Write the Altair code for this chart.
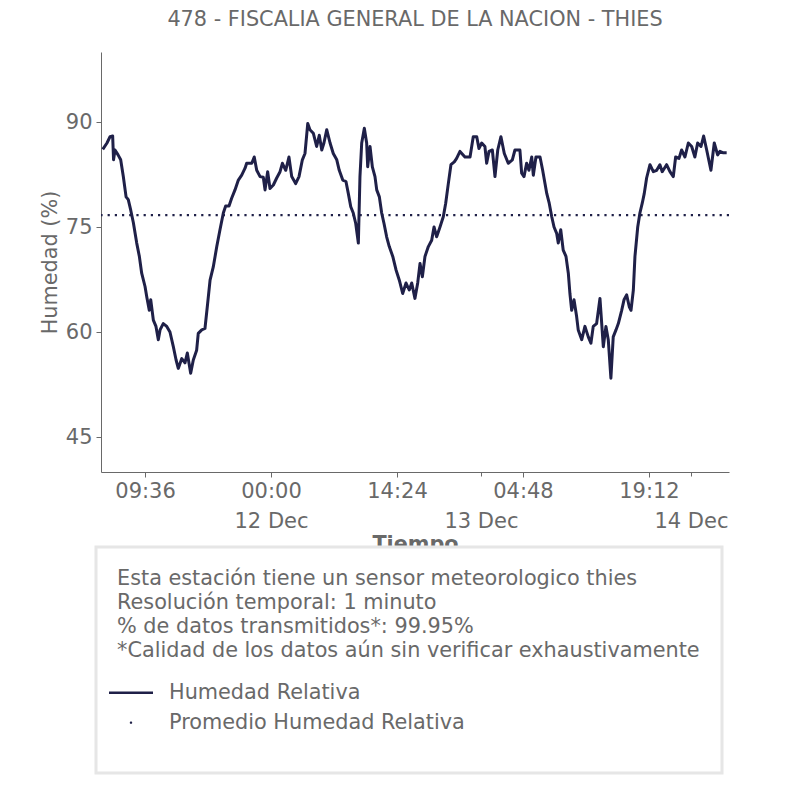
import altair as alt
import pandas as pd

titulo = "478 - FISCALIA GENERAL DE LA NACION - THIES"

# minutos desde 2023-12-12 00:00 y humedad relativa (%)
minutos = [
    -1154, -1125, -1104, -1086, -1080, -1070, -1049, -1031, -1013, -994,
    -979, -962, -944, -921, -903, -887, -864, -852, -835, -825,
    -807, -789, -773, -761, -739, -715, -693, -670, -651, -636,
    -612, -590, -574, -551, -533, -510, -499, -475, -453, -435,
    -418, -396, -372, -350, -327, -311, -288, -270, -247, -224,
    -201, -178, -167, -132, -115, -98, -75, -53, -41, -23,
    -7, 16, 39, 62, 78, 101, 123, 142, 169, 192,
    215, 233, 252, 267, 290, 313, 331, 348, 363, 382,
    405, 427, 451, 468, 492, 514, 530, 547, 564, 581,
    599, 610, 622, 640, 656, 663, 679, 695, 713, 725,
    743, 759, 775, 793, 811, 835, 857, 880, 903, 926,
    948, 965, 987, 1006, 1022, 1038, 1056, 1079, 1102, 1118,
    1136, 1159, 1182, 1198, 1216, 1234, 1257, 1273, 1296, 1330,
    1365, 1387, 1411, 1426, 1445, 1467, 1479, 1495, 1518, 1536,
    1555, 1577, 1600, 1627, 1655, 1673, 1707, 1719, 1735, 1753,
    1769, 1788, 1799, 1817, 1845, 1863, 1879, 1891, 1908, 1925,
    1941, 1959, 1970, 1987, 2004, 2023, 2039, 2050, 2062, 2078,
    2096, 2107, 2131, 2153, 2176, 2194, 2210, 2233, 2256, 2268,
    2279, 2297, 2313, 2331, 2347, 2366, 2382, 2405, 2421, 2439,
    2457, 2469, 2485, 2496, 2515, 2530, 2546, 2560, 2576, 2599,
    2622, 2645, 2667, 2683, 2713, 2736, 2759, 2775, 2798, 2816,
    2839, 2862, 2885, 2907, 2926, 2949, 2967, 2988, 3017, 3040,
    3063, 3079, 3102, 3125,
]
humedad = [
    86.1, 87.0, 87.9, 88.0, 84.6, 86.0, 85.3, 84.6, 82.2, 79.3,
    78.9, 77.4, 75.6, 72.7, 70.8, 68.4, 66.5, 65.0, 63.1, 64.6,
    61.7, 60.8, 58.9, 60.3, 61.2, 60.8, 60.0, 57.9, 56.0, 54.8,
    56.2, 55.6, 57.0, 54.1, 56.0, 57.4, 59.8, 60.3, 60.5, 64.0,
    67.4, 69.3, 72.2, 74.6, 77.0, 78.0, 78.0, 79.1, 80.3, 81.7,
    82.4, 83.4, 84.1, 84.1, 85.0, 83.1, 82.2, 82.1, 80.3, 82.9,
    80.5, 81.0, 82.0, 82.9, 84.1, 83.1, 85.0, 82.2, 81.2, 82.2,
    84.6, 85.5, 89.8, 88.9, 88.4, 86.5, 88.1, 86.0, 87.0, 88.9,
    87.0, 85.5, 84.6, 83.1, 81.7, 81.5, 79.8, 77.9, 77.0, 75.5,
    72.7, 82.2, 87.0, 89.1, 87.0, 83.6, 86.5, 83.6, 82.2, 80.3,
    79.3, 77.0, 75.5, 73.6, 72.2, 70.8, 68.9, 67.4, 65.5, 67.0,
    66.0, 67.0, 64.8, 67.0, 69.8, 67.9, 70.8, 72.2, 73.1, 75.0,
    73.6, 75.0, 76.5, 78.4, 81.2, 83.9, 84.3, 84.8, 85.8, 85.0,
    85.0, 87.9, 87.9, 86.2, 87.0, 86.5, 84.1, 85.8, 86.0, 82.2,
    86.0, 87.9, 85.5, 84.1, 84.6, 86.0, 86.0, 82.7, 82.2, 84.1,
    83.1, 85.0, 82.4, 85.0, 85.0, 83.1, 81.2, 79.8, 78.4, 76.5,
    75.0, 74.1, 72.7, 74.6, 71.7, 70.8, 68.4, 65.5, 63.1, 64.6,
    62.2, 60.3, 58.9, 60.8, 59.3, 58.4, 60.8, 61.2, 64.8, 61.2,
    57.9, 60.8, 58.9, 53.4, 59.3, 60.3, 61.2, 63.1, 64.6, 65.3,
    63.6, 63.1, 66.0, 70.8, 75.0, 77.0, 78.4, 79.8, 82.0, 83.9,
    82.9, 83.1, 83.9, 82.9, 83.9, 82.9, 82.2, 85.0, 84.8, 86.0,
    85.0, 87.0, 86.5, 85.0, 87.0, 86.5, 88.0, 86.0, 83.1, 87.0,
    85.3, 85.8, 85.6, 85.6,
]
promedio = 76.7

series = ["Humedad Relativa", "Promedio Humedad Relativa"]
info = [
    "Esta estación tiene un sensor meteorologico thies",
    "Resolución temporal: 1 minuto",
    "% de datos transmitidos*: 99.95%",
    "*Calidad de los datos aún sin verificar exhaustivamente",
]
ticks_hora = ["2023-12-11 09:36", "2023-12-12 00:00", "2023-12-12 14:24",
              "2023-12-13 04:48", "2023-12-13 19:12"]
ticks_dia = ["2023-12-12 00:00", "2023-12-13 00:00", "2023-12-14 00:00"]
x_dominio = ["2023-12-11 04:34", "2023-12-14 04:21"]
y_ticks = [45, 60, 75, 90]
y_dominio = [40, 100]

AZUL = "#1f2048"
GRIS = "#696969"
FUENTE = "DejaVu Sans"
FS = 20.8     # texto
FT = 21       # etiquetas de ejes


def dt(s):
    t = pd.Timestamp(s)
    return alt.DateTime(year=t.year, month=t.month, date=t.day,
                        hours=t.hour, minutes=t.minute)


base_t = pd.Timestamp("2023-12-12 00:00")
df = pd.DataFrame({
    "tiempo": base_t + pd.to_timedelta(minutos, unit="m"),
    "humedad": humedad,
})

x_scale = alt.Scale(domain=[dt(s) for s in x_dominio], nice=False)
y_scale = alt.Scale(domain=y_dominio, nice=False, zero=False)

eje_y = alt.Axis(values=y_ticks, title="Humedad (%)", grid=False,
                 labelFontSize=FT, labelColor=GRIS, labelFont=FUENTE,
                 titleFontSize=FS, titleColor=GRIS, titleFont=FUENTE,
                 titleFontWeight="normal", titlePadding=5,
                 tickSize=5, tickColor=GRIS, domainColor=GRIS,
                 labelPadding=4)

eje_horas = alt.Axis(values=[dt(s) for s in ticks_hora], format="%H:%M",
                     title=None, grid=False, orient="bottom",
                     labelFontSize=FT, labelColor=GRIS, labelFont=FUENTE,
                     tickSize=5, tickColor=GRIS, domainColor=GRIS,
                     labelPadding=3, labelFlush=False, labelOverlap=False)

eje_dias = alt.Axis(values=[dt(s) for s in ticks_dia], format="%d %b",
                    title="Tiempo", grid=False, orient="bottom", domain=False,
                    labelFontSize=FT, labelColor=GRIS, labelFont=FUENTE,
                    tickSize=4, tickColor=GRIS, labelPadding=34,
                    labelFlush=False, labelOverlap=False,
                    titleFontSize=FS, titleColor=GRIS, titleFont=FUENTE,
                    titleFontWeight="bold", titlePadding=3)

linea = alt.Chart(df).mark_line(color=AZUL, strokeWidth=3,
                                strokeJoin="round").encode(
    x=alt.X("tiempo:T", scale=x_scale, axis=eje_horas),
    y=alt.Y("humedad:Q", scale=y_scale, axis=eje_y),
)

media = alt.Chart(pd.DataFrame({"p": [promedio]})).mark_rule(
    color=AZUL, strokeWidth=2.2, strokeDash=[2.2, 5]).encode(
    y=alt.Y("p:Q", scale=y_scale),
)

capa_dias = alt.Chart(df).mark_point(opacity=0).encode(
    x=alt.X("tiempo:T", scale=x_scale, axis=eje_dias),
)

leg = alt.Legend(
    title=info, orient="none", legendX=16, legendY=517, padding=0,
    titleFontSize=FS, titleFont=FUENTE, titleFontWeight="normal",
    titleColor=GRIS, titleLineHeight=24, titlePadding=20, titleLimit=0,
    titleAnchor="start", titleAlign="left",
    labelFontSize=FS, labelFont=FUENTE, labelColor=GRIS, labelLimit=0,
    labelOffset=27, symbolSize=484, symbolStrokeWidth=0, symbolOffset=3,
    rowPadding=9,
)

# símbolos de la leyenda (rellenos): barra fina y punto pequeño
ruta_linea = "M -2 -0.115 L 2 -0.115 L 2 0.115 L -2 0.115 Z"
ruta_punto = "M -0.11 0 A 0.11 0.11 0 1 1 0.11 0 A 0.11 0.11 0 1 1 -0.11 0 Z"

leyenda = alt.Chart(pd.DataFrame({"serie": series})).mark_point(
    filled=True, clip=True, opacity=1).encode(
    y=alt.value(-60),
    color=alt.Color("serie:N", scale=alt.Scale(domain=series,
                                               range=[AZUL, AZUL]), legend=leg),
    shape=alt.Shape("serie:N", scale=alt.Scale(domain=series,
                                               range=[ruta_linea, ruta_punto]),
                    legend=leg),
)

caja = alt.Chart(pd.DataFrame({"k": [0]})).mark_rect(
    fill="white", stroke="#e6e6e6", strokeWidth=3).encode(
    x=alt.value(-5), x2=alt.value(621), y=alt.value(495), y2=alt.value(721),
)

chart = alt.layer(linea, media, capa_dias, leyenda, caja).resolve_axis(
    x="independent"
).properties(
    width=628, height=420,
    title=alt.TitleParams(titulo, fontSize=FS, font=FUENTE,
                          fontWeight="normal", color=GRIS, anchor="middle",
                          frame="group", offset=21),
    autosize=alt.AutoSizeParams(type="none"),
    padding={"left": 93, "top": 44, "right": 55, "bottom": 310},
).configure(font=FUENTE).configure_view(stroke=None)

chart.save("out.html", embed_options={"renderer": "svg", "actions": False})
